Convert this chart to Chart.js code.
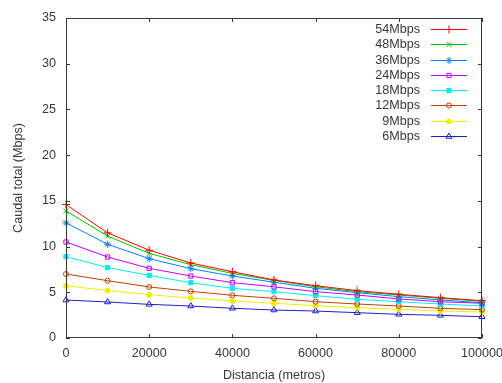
<!DOCTYPE html>
<html>
<head>
<meta charset="utf-8">
<script src="https://cdn.jsdelivr.net/npm/chart.js@4/dist/chart.umd.min.js"></script>
<style>
  html, body { margin: 0; padding: 0; background: #fff; }
  canvas { display: block; }
</style>
</head>
<body>
<canvas id="throughputChart" width="502" height="383"></canvas>
<script>
// distancia en metros
const distances = [0, 10000, 20000, 30000, 40000, 50000, 60000, 70000, 80000, 90000, 100000];

const rates = ['54Mbps', '48Mbps', '36Mbps', '24Mbps', '18Mbps', '12Mbps', '9Mbps', '6Mbps'];

// caudal total (Mbps) por tasa
const tp54 = [14.6, 11.5, 9.6, 8.2, 7.25, 6.35, 5.72, 5.18, 4.78, 4.41, 4.08];
const tp48 = [13.9, 11.15, 9.26, 8.02, 7.07, 6.3, 5.6, 5.07, 4.7, 4.34, 4.01];
const tp36 = [12.6, 10.25, 8.68, 7.58, 6.78, 6.1, 5.43, 4.96, 4.52, 4.16, 3.86];
const tp24 = [10.5, 8.86, 7.62, 6.78, 6.05, 5.6, 5.07, 4.7, 4.27, 3.97, 3.8];
const tp18 = [8.9, 7.7, 6.85, 6.05, 5.43, 5.07, 4.63, 4.23, 3.97, 3.72, 3.5];
const tp12 = [7.0, 6.27, 5.58, 5.1, 4.67, 4.34, 3.97, 3.72, 3.5, 3.25, 3.1];
const tp9  = [5.7, 5.2, 4.74, 4.37, 4.05, 3.8, 3.54, 3.32, 3.14, 2.95, 2.85];
const tp6  = [4.15, 3.94, 3.68, 3.5, 3.25, 3.06, 2.95, 2.77, 2.59, 2.48, 2.33];

const series = [tp54, tp48, tp36, tp24, tp18, tp12, tp9, tp6];
const colors = ['#ff0000', '#00c000', '#0080ff', '#c000ff', '#00eeee', '#c04000', '#eeee00', '#2020c0'];
const markers = ['cross', 'crossRot', 'star', 'rect', 'rect', 'circle', 'circle', 'triangle'];
const filled = [false, false, false, false, true, false, true, false];
const markerSize = [4, 3.5, 3.5, 3, 3, 2.5, 2.5, 3.5];

const FONT = { family: "'Liberation Sans', Arial, sans-serif", size: 12.6 };
const TEXT = '#383838';

const datasets = rates.map((name, i) => ({
    label: name,
    data: distances.map((d, j) => ({ x: d, y: series[i][j] })),
    borderColor: colors[i],
    borderWidth: 1,
    pointStyle: markers[i],
    pointRadius: markerSize[i],
    pointBorderWidth: 1,
    pointBorderColor: colors[i],
    pointBackgroundColor: filled[i] ? colors[i] : 'rgba(0,0,0,0)',
    tension: 0,
    clip: false
}));

// marco con marcas de escala hacia dentro, como en gnuplot
const frame = {
    id: 'frame',
    afterDatasetsDraw(chart) {
        const { ctx, chartArea: a, scales } = chart;
        const len = 4;
        ctx.save();
        ctx.strokeStyle = TEXT;
        ctx.lineWidth = 1;
        ctx.beginPath();
        ctx.rect(a.left + 0.5, a.top + 0.5, a.right - a.left - 1, a.bottom - a.top - 1);
        scales.y.ticks.forEach(t => {
            const y = Math.round(scales.y.getPixelForValue(t.value)) + 0.5;
            ctx.moveTo(a.left, y); ctx.lineTo(a.left + len, y);
            ctx.moveTo(a.right, y); ctx.lineTo(a.right - len, y);
        });
        scales.x.ticks.forEach(t => {
            const x = Math.round(scales.x.getPixelForValue(t.value)) + 0.5;
            ctx.moveTo(x, a.bottom); ctx.lineTo(x, a.bottom - len);
            ctx.moveTo(x, a.top); ctx.lineTo(x, a.top + len);
        });
        ctx.stroke();
        ctx.restore();
    }
};

// leyenda: texto a la izquierda, muestra de linea y simbolo a la derecha
const keyLegend = {
    id: 'keyLegend',
    afterDraw(chart) {
        const { ctx } = chart;
        const textRight = 420, lineStart = 431, lineEnd = 467, top = 29, step = 15.25;
        ctx.save();
        ctx.font = FONT.size + 'px ' + FONT.family;
        ctx.textAlign = 'right';
        ctx.textBaseline = 'middle';
        chart.data.datasets.forEach((ds, i) => {
            const y = Math.round(top + i * step) + 0.5;
            ctx.fillStyle = TEXT;
            ctx.fillText(ds.label, textRight, y);
            ctx.strokeStyle = ds.borderColor;
            ctx.lineWidth = 1;
            ctx.beginPath();
            ctx.moveTo(lineStart, y);
            ctx.lineTo(lineEnd, y);
            ctx.stroke();
            ctx.fillStyle = ds.pointBackgroundColor;
            Chart.helpers.drawPoint(ctx, {
                pointStyle: ds.pointStyle,
                radius: ds.pointRadius,
                rotation: 0,
                borderWidth: 1
            }, (lineStart + lineEnd) / 2, y);
        });
        ctx.restore();
    }
};

new Chart(document.getElementById('throughputChart'), {
    type: 'line',
    data: { datasets },
    plugins: [frame, keyLegend],
    options: {
        responsive: false,
        animation: false,
        layout: { padding: { top: 18, right: 20, left: 0, bottom: 0 } },
        plugins: { legend: { display: false }, tooltip: { enabled: false } },
        scales: {
            x: {
                type: 'linear',
                min: 0,
                max: 100000,
                grid: { display: false, drawTicks: false },
                border: { display: false },
                ticks: { stepSize: 20000, padding: 8, color: TEXT, font: FONT, maxRotation: 0, callback: v => String(v) },
                title: { display: true, text: 'Distancia (metros)', color: TEXT, font: FONT, padding: { top: 0, bottom: 0 } },
                afterFit(s) { s.height = 45; s.paddingLeft = 0; s.paddingRight = 0; }
            },
            y: {
                min: 0,
                max: 35,
                grid: { display: false, drawTicks: false },
                border: { display: false },
                ticks: { stepSize: 5, padding: 10, color: TEXT, font: FONT },
                title: { display: true, text: 'Caudal total (Mbps)', color: TEXT, font: FONT, padding: { top: 11, bottom: 4 } },
                afterFit(s) { s.width = 66; s.paddingTop = 0; s.paddingBottom = 0; }
            }
        }
    }
});
</script>
</body>
</html>
